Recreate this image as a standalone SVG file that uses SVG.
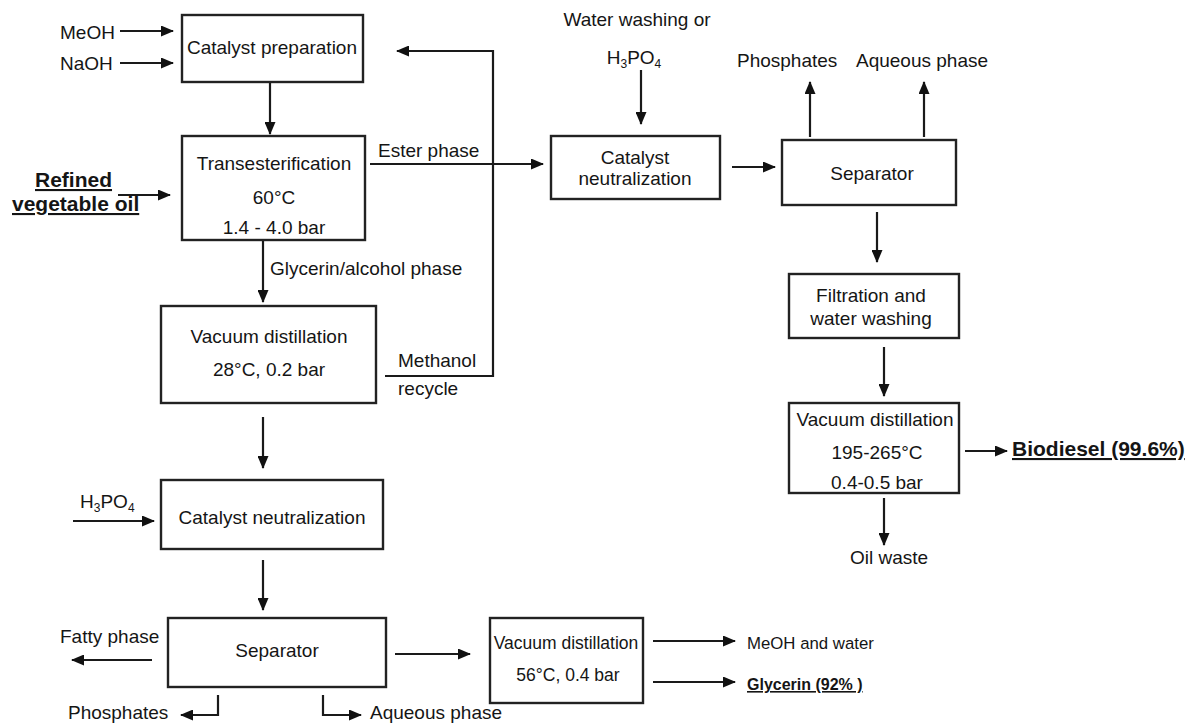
<svg xmlns="http://www.w3.org/2000/svg" width="1196" height="726" viewBox="0 0 1196 726">
<defs>
<style>
text{font-family:"Liberation Sans",Arial,sans-serif;font-size:19px;fill:#151515}
.c{text-anchor:middle}
.b{font-weight:bold;font-size:21px;text-decoration:underline}
.s{font-size:17.5px}
.box{fill:#fff;stroke:#222;stroke-width:2.4}
.ln{fill:none;stroke:#1a1a1a;stroke-width:2.2}
</style>
<marker id="ah" viewBox="0 0 13 11" refX="12" refY="5.5" markerWidth="13" markerHeight="11" markerUnits="userSpaceOnUse" orient="auto">
<path d="M0,0 L13,5.5 L0,11 z" fill="#111"/>
</marker>
</defs>
<rect width="1196" height="726" fill="#fff"/>

<g id="connectors">
<line class="ln" x1="120" y1="31" x2="173" y2="31" marker-end="url(#ah)"/>
<line class="ln" x1="120" y1="63" x2="173" y2="63" marker-end="url(#ah)"/>
<line class="ln" x1="270" y1="82" x2="270" y2="134" marker-end="url(#ah)"/>
<line class="ln" x1="118" y1="195" x2="170" y2="195" marker-end="url(#ah)"/>
<line class="ln" x1="370" y1="164" x2="543" y2="164" marker-end="url(#ah)"/>
<polyline class="ln" points="385,376 493,376 493,51 397,51" marker-end="url(#ah)"/>
<line class="ln" x1="263" y1="240" x2="263" y2="302" marker-end="url(#ah)"/>
<line class="ln" x1="263" y1="417" x2="263" y2="468" marker-end="url(#ah)"/>
<line class="ln" x1="73" y1="521" x2="154" y2="521" marker-end="url(#ah)"/>
<line class="ln" x1="263" y1="560" x2="263" y2="610" marker-end="url(#ah)"/>
<line class="ln" x1="152" y1="660" x2="72" y2="660" marker-end="url(#ah)"/>
<polyline class="ln" points="218,695 218,715 181,715" marker-end="url(#ah)"/>
<polyline class="ln" points="323,695 323,715 361,715" marker-end="url(#ah)"/>
<line class="ln" x1="395" y1="654" x2="470" y2="654" marker-end="url(#ah)"/>
<line class="ln" x1="653" y1="641" x2="735" y2="641" marker-end="url(#ah)"/>
<line class="ln" x1="653" y1="682" x2="735" y2="682" marker-end="url(#ah)"/>
<line class="ln" x1="641" y1="70" x2="641" y2="124" marker-end="url(#ah)"/>
<line class="ln" x1="732" y1="167" x2="775" y2="167" marker-end="url(#ah)"/>
<line class="ln" x1="810" y1="137" x2="810" y2="82" marker-end="url(#ah)"/>
<line class="ln" x1="924" y1="137" x2="924" y2="82" marker-end="url(#ah)"/>
<line class="ln" x1="877" y1="212" x2="877" y2="262" marker-end="url(#ah)"/>
<line class="ln" x1="884" y1="347" x2="884" y2="396" marker-end="url(#ah)"/>
<line class="ln" x1="884" y1="498" x2="884" y2="545" marker-end="url(#ah)"/>
<line class="ln" x1="965" y1="451" x2="1007" y2="451" marker-end="url(#ah)"/>
</g>

<g id="labels">
<text x="60" y="39">MeOH</text>
<text x="60" y="70">NaOH</text>
<text class="b" x="35" y="187">Refined</text>
<text class="b" x="12" y="211">vegetable oil</text>
<text x="378" y="157">Ester phase</text>
<text x="270" y="275">Glycerin/alcohol phase</text>
<text x="398" y="367">Methanol</text>
<text x="398" y="395">recycle</text>
<text x="80" y="508">H<tspan dy="4" font-size="12">3</tspan><tspan dy="-4">PO</tspan><tspan dy="4" font-size="12">4</tspan></text>
<text x="60" y="643">Fatty phase</text>
<text x="68" y="719">Phosphates</text>
<text x="370" y="719">Aqueous phase</text>
<text x="747" y="649" style="font-size:16.8px">MeOH and water</text>
<text x="747" y="690" style="font-weight:bold;font-size:16px;text-decoration:underline">Glycerin (92% )</text>
<text class="c" x="637" y="26">Water washing or</text>
<text class="c" x="634" y="64">H<tspan dy="4" font-size="12">3</tspan><tspan dy="-4">PO</tspan><tspan dy="4" font-size="12">4</tspan></text>
<text x="737" y="67">Phosphates</text>
<text x="856" y="67">Aqueous phase</text>
<text class="c" x="889" y="564">Oil waste</text>
<text class="b" x="1012" y="456">Biodiesel (99.6%)</text>
</g>

<g id="catalyst-preparation">
<rect class="box" x="182" y="15" width="181" height="67"/>
<text class="c" x="272" y="54">Catalyst preparation</text>
</g>
<g id="transesterification">
<rect class="box" x="182" y="136" width="183" height="104"/>
<text class="c" x="274" y="170">Transesterification</text>
<text class="c" x="274" y="204">60°C</text>
<text class="c" x="274" y="234">1.4 - 4.0 bar</text>
</g>
<g id="vacuum-distillation-1">
<rect class="box" x="161" y="306" width="215" height="97"/>
<text class="c" x="269" y="343">Vacuum distillation</text>
<text class="c" x="269" y="376">28°C, 0.2 bar</text>
</g>
<g id="catalyst-neutralization-2">
<rect class="box" x="161" y="480" width="222" height="69"/>
<text class="c" x="272" y="524">Catalyst neutralization</text>
</g>
<g id="separator-2">
<rect class="box" x="168" y="618" width="218" height="69"/>
<text class="c" x="277" y="657">Separator</text>
</g>
<g id="vacuum-distillation-3">
<rect class="box" x="490" y="618" width="153" height="85"/>
<text class="c s" x="566" y="649">Vacuum distillation</text>
<text class="c s" x="568" y="681">56°C, 0.4 bar</text>
</g>
<g id="catalyst-neutralization-1">
<rect class="box" x="551" y="136" width="169" height="63"/>
<text class="c" x="635" y="164">Catalyst</text>
<text class="c" x="635" y="185">neutralization</text>
</g>
<g id="separator-1">
<rect class="box" x="782" y="140" width="174" height="65"/>
<text class="c" x="872" y="180">Separator</text>
</g>
<g id="filtration">
<rect class="box" x="789" y="274" width="170" height="64"/>
<text class="c" x="871" y="302">Filtration and</text>
<text class="c" x="871" y="325">water washing</text>
</g>
<g id="vacuum-distillation-2">
<rect class="box" x="789" y="403" width="170" height="90"/>
<text class="c" x="875" y="426">Vacuum distillation</text>
<text class="c" x="877" y="459">195-265°C</text>
<text class="c" x="877" y="489">0.4-0.5 bar</text>
</g>
</svg>
